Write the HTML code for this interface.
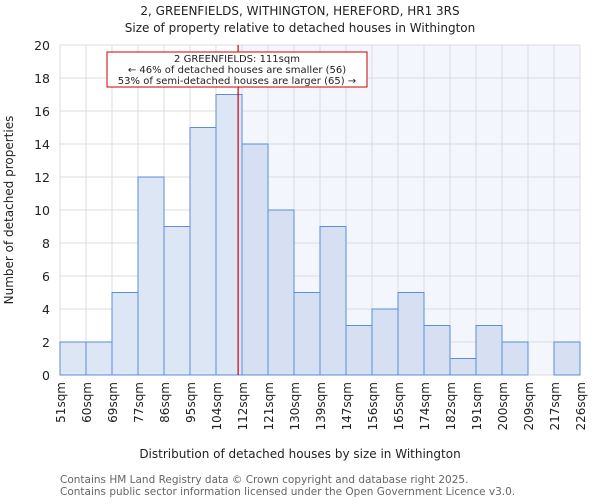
<!DOCTYPE html>
<html><head><meta charset="utf-8"><style>
body{margin:0;background:#fff;font-family:"DejaVu Sans","Liberation Sans",sans-serif}
svg text{font-family:"DejaVu Sans","Liberation Sans",sans-serif;fill:#222}
</style></head><body>
<svg id="c" width="600" height="500">
<text x="300" y="15" text-anchor="middle" font-size="12">2, GREENFIELDS, WITHINGTON, HEREFORD, HR1 3RS</text>
<text x="300" y="32" text-anchor="middle" font-size="12">Size of property relative to detached houses in Withington</text>
<g id="plot"></g>
<text x="300" y="458" text-anchor="middle" font-size="12">Distribution of detached houses by size in Withington</text>
<text transform="translate(13,210) rotate(-90)" text-anchor="middle" font-size="12">Number of detached properties</text>
<text x="60" y="483" font-size="10.5" style="fill:#666">Contains HM Land Registry data © Crown copyright and database right 2025.</text>
<text x="60" y="495" font-size="10.5" style="fill:#666">Contains public sector information licensed under the Open Government Licence v3.0.</text>
</svg>
<script>
const categories=["51sqm","60sqm","69sqm","77sqm","86sqm","95sqm","104sqm","112sqm","121sqm","130sqm","139sqm","147sqm","156sqm","165sqm","174sqm","182sqm","191sqm","200sqm","209sqm","217sqm","226sqm"];
const counts=[2,2,5,12,9,15,17,14,10,5,9,3,4,5,3,1,3,2,0,2];
const yTicks=[0,2,4,6,8,10,12,14,16,18,20];
const markerBin=6.85;
const annotationLines=["2 GREENFIELDS: 111sqm","← 46% of detached houses are smaller (56)","53% of semi-detached houses are larger (65) →"];
const L=60,R=580,T=45,B=375,NS="http://www.w3.org/2000/svg";
const bw=(R-L)/counts.length;
const x=i=>L+i*bw, y=v=>B-(v/20)*(B-T);
const g=document.getElementById('plot');
function el(t,a){const e=document.createElementNS(NS,t);for(const k in a)e.setAttribute(k,a[k]);g.appendChild(e);return e;}
const mx=x(markerBin);
let r=el('rect',{x:mx,y:T,width:R-mx,height:B-T,fill:'#f3f6fc'});


for(let i=0;i<=counts.length;i++){let l=el('line',{x1:x(i),x2:x(i),y1:T,y2:B,stroke:'#dcdcdc','stroke-width':1});

}
yTicks.forEach(v=>{let l=el('line',{x1:L,x2:R,y1:y(v),y2:y(v),stroke:'#dcdcdc','stroke-width':1});


let t=el('text',{x:L-10,y:y(v)+5,'text-anchor':'end','font-size':12.5});t.textContent=v;

});
counts.forEach((c,i)=>{if(c<=0)return;let b=el('rect',{x:x(i),y:y(c),width:bw,height:y(0)-y(c),fill:(x(i)>=mx-1?'#d6e0f2':'#dde6f4'),stroke:'#5b8fd6','stroke-width':1});

});
categories.forEach((c,i)=>{let t=el('text',{transform:`translate(${x(i)+5},382) rotate(-90)`,'text-anchor':'end','font-size':12});t.textContent=c;

});
let ml=el('line',{x1:mx,x2:mx,y1:T,y2:B,stroke:'#cc0000','stroke-width':1.2});


let box=el('rect',{x:107,y:52,width:260,height:35,fill:'#fff',stroke:'#cc0000','stroke-width':1});


annotationLines.forEach((s,i)=>{let t=el('text',{x:237,y:62+i*11,'text-anchor':'middle','font-size':10});t.textContent=s;

});
</script>
</body></html>
